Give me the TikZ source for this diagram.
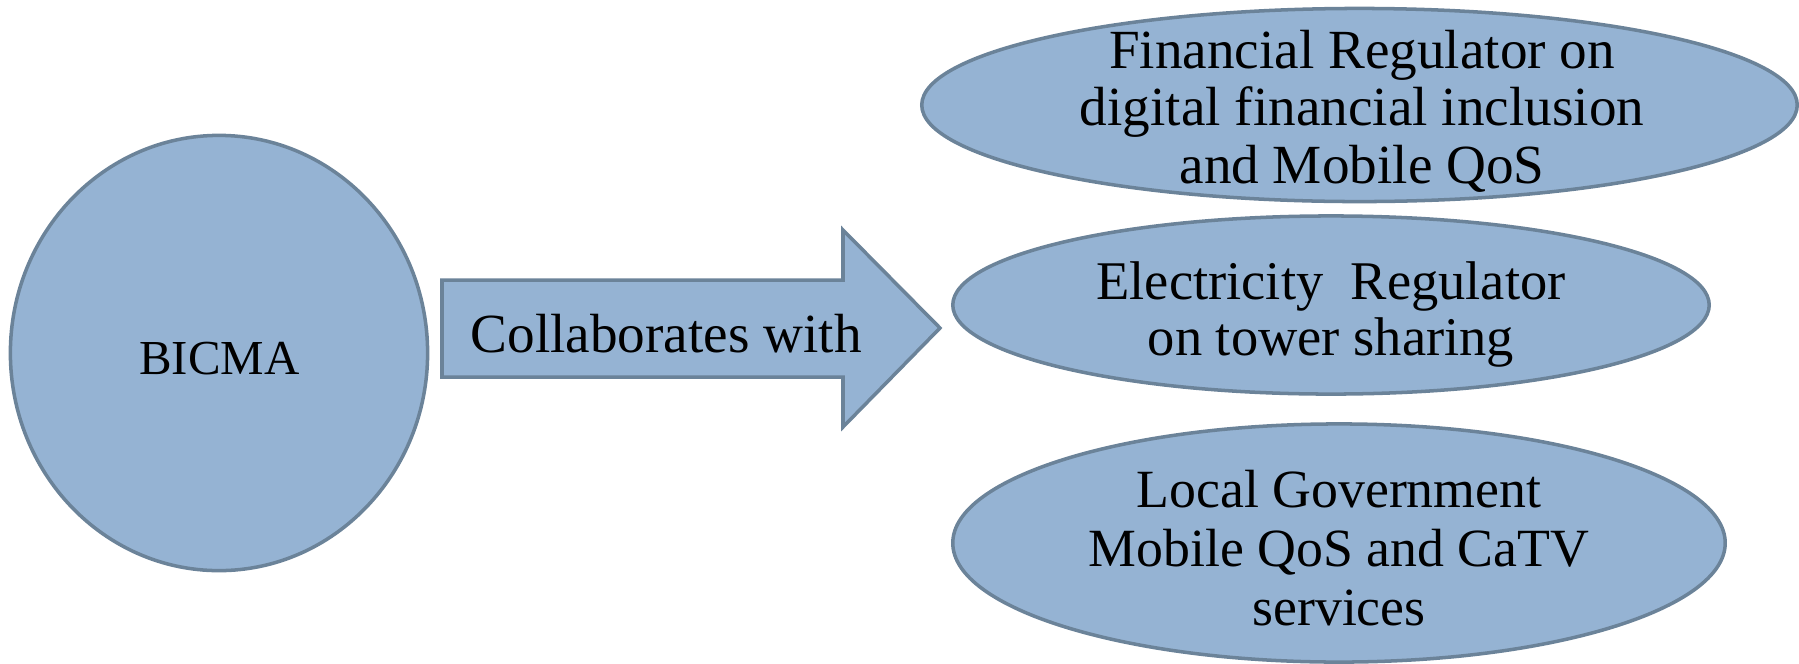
\documentclass[tikz,border=0pt]{standalone}
\usepackage{fontspec}
\setmainfont{Liberation Serif}
\usetikzlibrary{shapes.geometric}
\definecolor{blobfill}{HTML}{95B3D3}
\definecolor{blobline}{HTML}{6B8399}
\begin{document}
\begin{tikzpicture}[x=0.01cm,y=-0.01cm,
  blob/.style={ellipse, draw=blobline, fill=blobfill, line width=1pt, inner sep=0pt},
  lbl/.style={align=center, inner sep=0pt, anchor=base}]
\useasboundingbox (0,0) rectangle (1799,663);
% BICMA circle
\node[blob, minimum width=4.17cm, minimum height=4.35cm] (bicma) at (219,353) {};
\node[lbl, font=\fontsize{13.9pt}{15pt}\selectfont] (bicmat) at (219.5,374) {BICMA};
% arrow
\draw[draw=blobline, fill=blobfill, line width=1pt, line join=miter]
  (442,280) coordinate (a1) -- (843,280) -- (843,230) -- (940,328) coordinate (tip)
  -- (843,427) -- (843,377) -- (442,377) -- cycle;
\node[lbl, anchor=base west, font=\fontsize{15.7pt}{16pt}\selectfont] (collab) at (470,352) {Collaborates with};
% ellipses
\node[blob, minimum width=8.75cm, minimum height=1.93cm] (fin) at (1359.5,105) {};
\node[lbl, font=\fontsize{15.7pt}{16.35pt}\selectfont] (fint) at (1362,183)
  {Financial Regulator on\\digital financial inclusion\\and Mobile QoS};
\node[blob, minimum width=7.56cm, minimum height=1.78cm] (elec) at (1331,305) {};
\node[lbl, font=\fontsize{15.5pt}{15.65pt}\selectfont] (elect) at (1331,355)
  {Electricity\ \ Regulator\\on tower sharing};
\node[blob, minimum width=7.72cm, minimum height=2.38cm] (loc) at (1339,543) {};
\node[lbl, font=\fontsize{15.3pt}{16.65pt}\selectfont] (loct) at (1339,625)
  {Local Government\\Mobile QoS and CaTV\\services};
\end{tikzpicture}
\end{document}
